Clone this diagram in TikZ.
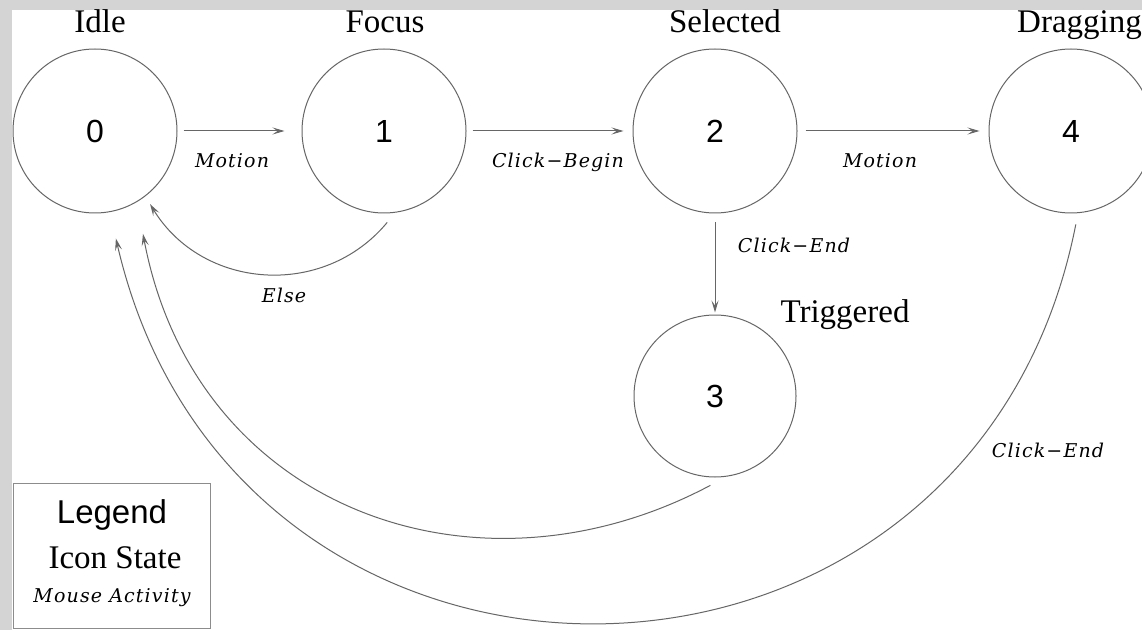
\documentclass[tikz,border=0pt]{standalone}
\usepackage{fontspec}
\setmainfont{Liberation Serif}
\newfontfamily\numfont{Liberation Sans}
\newfontfamily\actfont[LetterSpace=6]{DejaVu Serif}
\usetikzlibrary{arrows.meta}
\begin{document}
\begin{tikzpicture}[x=1pt,y=1pt,
  state/.style={circle, draw=black!60, line width=1pt, minimum size=164pt, inner sep=0pt, font=\numfont\fontsize{32}{32}\selectfont},
  slabel/.style={anchor=base, inner sep=0pt, font=\fontsize{33}{33}\selectfont},
  act/.style={anchor=base, inner sep=0pt, font=\actfont\itshape\fontsize{19}{19}\selectfont},
  edge/.style={draw=black!60, line width=1pt, -{Stealth[length=12pt,width=7pt,inset=5pt]}},
]
\fill[black!17] (0,0) rectangle (1142,630);
\fill[white] (12,0) rectangle (1142,620);
\useasboundingbox (0,0) rectangle (1142,630);

\node[state] (s0) at (95,499) {0};
\node[state] (s1) at (384,499) {1};
\node[state] (s2) at (715,499) {2};
\node[state] (s4) at (1071,499) {4};
\node[state, minimum size=162pt] (s3) at (715,234) {3};

\node[slabel] (l0) at (100,597) {Idle};
\node[slabel] (l1) at (385,597) {Focus};
\node[slabel] (l2) at (725,597) {Selected};
\node[slabel, anchor=base west] (l4) at (1017,597) {Dragging};
\node[slabel] (l3) at (845,308) {Triggered};

\draw[edge, shorten <=6pt, shorten >=17pt] (s0) -- (s1);
\draw[edge, shorten <=6pt, shorten >=9pt] (s1) -- (s2);
\draw[edge, shorten <=8pt, shorten >=9pt] (s2) -- (s4);
\draw[edge, shorten <=9pt, shorten >=2pt] (s2) -- (s3);

\draw[edge] ([shift={(-88:9)}]s1.-88) .. controls +(-129.7:100) and +(-58.7:100) .. ([shift={(-53:9)}]s0.-53);
\draw[edge] ([shift={(-93:8)}]s3.-93) .. controls +(-235,-125) and +(52,-275) .. ([shift={(-65:31)}]s0.-65);
\draw[edge] ([shift={(-87.5:11)}]s4.-87.5) .. controls +(-101.1:534) and +(-77:534) .. ([shift={(-79:27)}]s0.-79);

\node[act] (a01) at (232,462) {Motion};
\node[act] (a12) at (558,462) {Click−Begin};
\node[act] (a24) at (880,462) {Motion};
\node[act] (a23) at (794,377) {Click−End};
\node[act] (a10) at (284,327) {Else};
\node[act] (a40) at (1048,173) {Click−End};

\node[draw=black!45, line width=1pt, minimum width=197pt, minimum height=145pt, inner sep=0pt] (leg) at (111.5,74.5) {};
\node[anchor=base, font=\numfont\fontsize{33}{33}\selectfont] (legt) at (112,107) {Legend};
\node[anchor=base, font=\fontsize{33}{33}\selectfont] (legs) at (115,62) {Icon State};
\node[act] (lega) at (112,28) {Mouse Activity};
\end{tikzpicture}
\end{document}
